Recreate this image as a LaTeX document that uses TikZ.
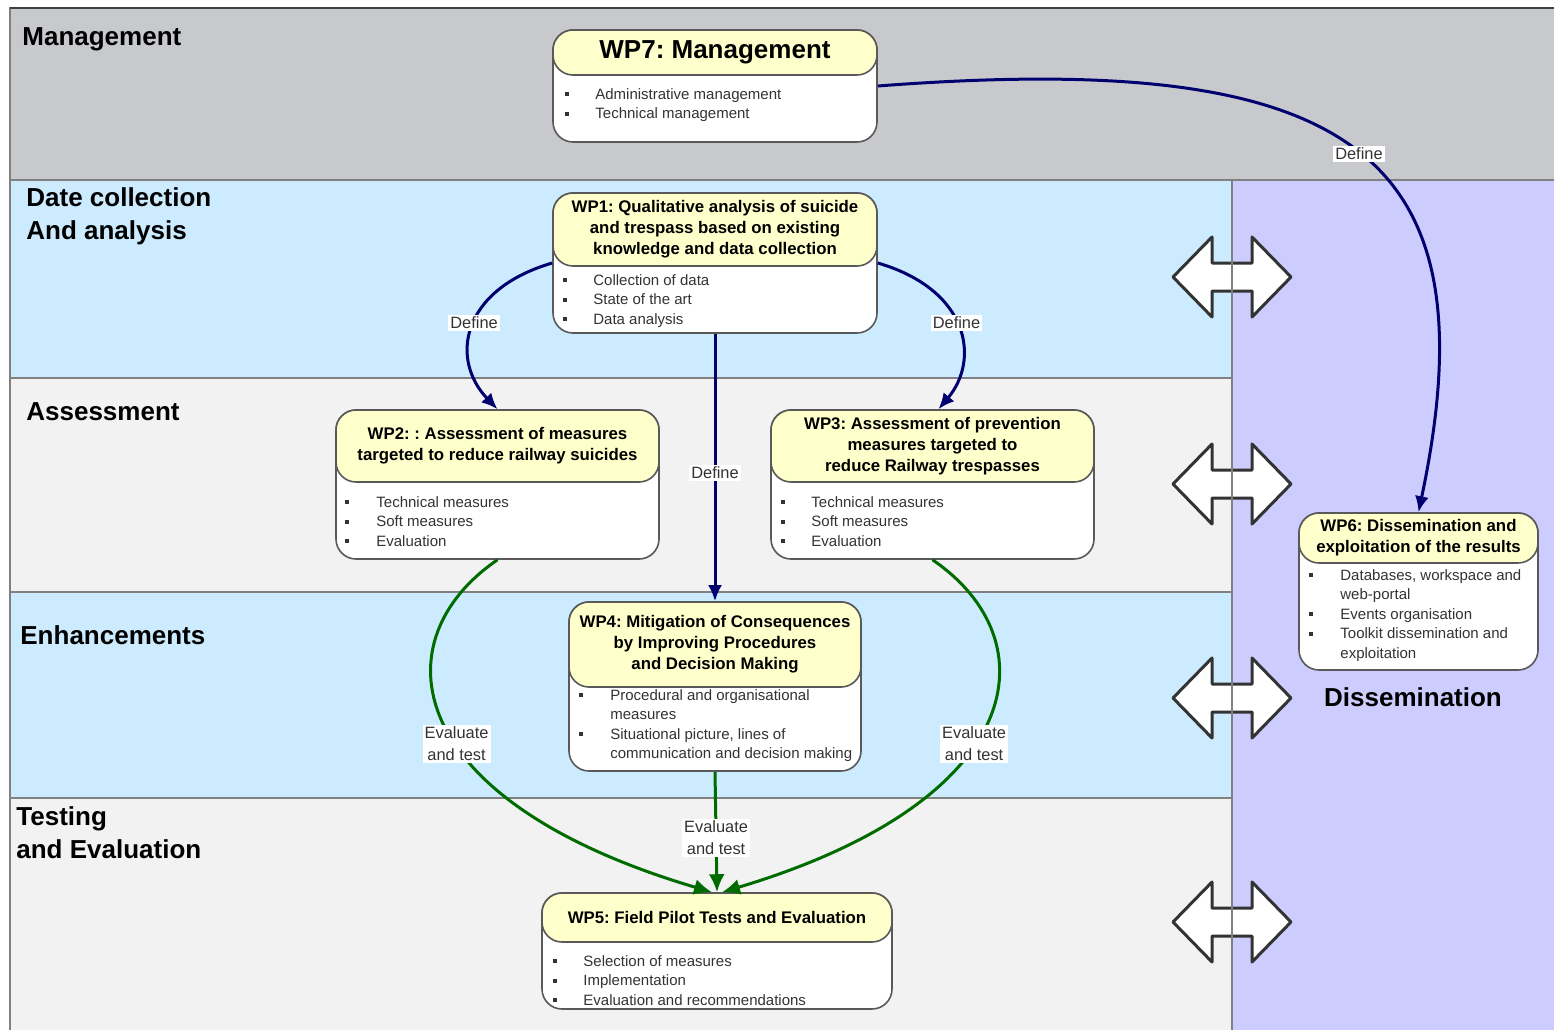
\documentclass[tikz,border=0pt]{standalone}
\usepackage{fontspec}
\setmainfont{Liberation Sans}
\usepackage{tikz}
\usetikzlibrary{arrows.meta}
\frenchspacing
\definecolor{mgmtgray}{HTML}{C8C9CD}
\definecolor{bandblue}{HTML}{CCEBFE}
\definecolor{bandgray}{HTML}{F2F2F2}
\definecolor{dissblue}{HTML}{CCCCFF}
\definecolor{headyellow}{HTML}{FFFFCC}
\definecolor{defblue}{HTML}{00006E}
\definecolor{testgreen}{HTML}{006C00}
\definecolor{edgegray}{HTML}{808080}
\newcommand{\wpbullet}{\rule[1.5pt]{1.8pt}{1.8pt}}
\tikzstyle{band} = [draw=edgegray, line width=1pt]
\tikzstyle{bandlabel} = [inner sep=0pt, align=left, font=\fontsize{13}{16.5}\selectfont\bfseries]
\tikzstyle{wpbody} = [draw=black!65, line width=0.8pt, fill=white, rounded corners=10pt, inner sep=0pt]
\tikzstyle{wphead} = [draw=black!65, line width=0.8pt, fill=headyellow, rounded corners=10pt, inner sep=0pt, anchor=north, align=center, font=\fontsize{8.4}{10.5}\selectfont\bfseries]
\tikzstyle{wpitems} = [inner sep=0pt, anchor=base west, text=black!80, font=\fontsize{7.5}{9.75}\selectfont]
\tikzstyle{defline} = [draw=defblue, line width=1.5pt, -{Latex[length=8pt,width=7pt]}]
\tikzstyle{testline} = [draw=testgreen, line width=1.5pt, -{Latex[length=9pt,width=8pt]}]
\tikzstyle{lbl} = [fill=white, inner sep=1pt, align=center, text=black!80, font=\fontsize{8.2}{11}\selectfont]
\tikzstyle{bigarrow} = [draw=black!80, line width=1.5pt, fill=white, line join=round]

\begin{document}
\begin{tikzpicture}[x=0.5pt, y=-0.5pt]
\path[use as bounding box, fill=white] (0,0) rectangle (1554,1029);
\path[band, fill=mgmtgray] (10,8) rectangle (1560,180);
\path[band, fill=bandblue] (10,180) rectangle (1232,378);
\path[band, fill=bandgray] (10,378) rectangle (1232,592);
\path[band, fill=bandblue] (10,592) rectangle (1232,798);
\path[band, fill=bandgray] (10,798) rectangle (1232,1035);
\path[band, fill=dissblue] (1232,180) rectangle (1560,1035);
\draw[black!75, line width=1pt] (10,8) -- (1560,8);

\foreach \y in {277,484,698,922}
  \draw[bigarrow] (1232,\y) +(-59,0) -- +(-20,-40) -- +(-20,-14) -- +(20,-14) -- +(20,-40) -- +(59,0)
    -- +(20,40) -- +(20,14) -- +(-20,14) -- +(-20,40) -- cycle;
\draw[edgegray, line width=1pt] (1232,180) -- (1232,1035);

\node[bandlabel, anchor=base west] (lmgmt) at (22,45) {Management};
\node[bandlabel, anchor=north west] (ldata) at (26,187) {Date collection\\And analysis};
\node[bandlabel, anchor=base west] (lassess) at (26,420) {Assessment};
\node[bandlabel, anchor=base west] (lenh) at (20,644) {Enhancements};
\node[bandlabel, anchor=north west] (ltest) at (16,806) {Testing\\and Evaluation};
\node[bandlabel] (ldiss) at (1413,697) {Dissemination};

\node[wpbody, minimum width=162pt, minimum height=56pt] at (715,86) (wp7) {};
\node[wphead, minimum width=162pt, minimum height=22.5pt, font=\fontsize{13}{15}\selectfont\bfseries] at (wp7.north) (wp7h) {WP7: Management};
\node[wpitems] at (565,99) (wp7i) {\begin{tabular}[t]{@{}p{15pt}@{}l@{}}\wpbullet & Administrative management\\ \wpbullet & Technical management\end{tabular}};

\node[wpbody, minimum width=162pt, minimum height=70pt] at (715,263) (wp1) {};
\node[wphead, minimum width=162pt, minimum height=36.5pt] at (wp1.north) (wp1h) {WP1: Qualitative analysis of suicide\\and trespass based on existing\\knowledge and data collection};
\node[wpitems] at (563,285) (wp1i) {\begin{tabular}[t]{@{}p{15pt}@{}l@{}}\wpbullet & Collection of data\\ \wpbullet & State of the art\\ \wpbullet & Data analysis\end{tabular}};

\node[wpbody, minimum width=161.5pt, minimum height=74.5pt] at (497.5,484.5) (wp2) {};
\node[wphead, minimum width=161.5pt, minimum height=36pt] at (wp2.north) (wp2h) {WP2: : Assessment of measures\\targeted to reduce railway suicides};
\node[wpitems] at (345,507) (wp2i) {\begin{tabular}[t]{@{}p{15.5pt}@{}l@{}}\wpbullet & Technical measures\\ \wpbullet & Soft measures\\ \wpbullet & Evaluation\end{tabular}};

\node[wpbody, minimum width=161.5pt, minimum height=74.5pt] at (932.5,484.5) (wp3) {};
\node[wphead, minimum width=161.5pt, minimum height=36pt] at (wp3.north) (wp3h) {WP3: Assessment of prevention\\measures targeted to\\reduce Railway trespasses};
\node[wpitems] at (781,507) (wp3i) {\begin{tabular}[t]{@{}p{15pt}@{}l@{}}\wpbullet & Technical measures\\ \wpbullet & Soft measures\\ \wpbullet & Evaluation\end{tabular}};

\node[wpbody, minimum width=146pt, minimum height=84.5pt] at (715,686.5) (wp4) {};
\node[wphead, minimum width=146pt, minimum height=42.5pt] at (wp4.north) (wp4h) {WP4: Mitigation of Consequences\\by Improving Procedures\\and Decision Making};
\node[wpitems] at (579,700) (wp4i) {\begin{tabular}[t]{@{}p{15.5pt}@{}l@{}}\wpbullet & Procedural and organisational\\ & measures\\ \wpbullet & Situational picture, lines of\\ & communication and decision making\end{tabular}};

\node[wpbody, minimum width=175pt, minimum height=58pt] at (717,951) (wp5) {};
\node[wphead, minimum width=175pt, minimum height=24.5pt] at (wp5.north) (wp5h) {WP5: Field Pilot Tests and Evaluation};
\node[wpitems] at (553,966) (wp5i) {\begin{tabular}[t]{@{}p{15pt}@{}l@{}}\wpbullet & Selection of measures\\ \wpbullet & Implementation\\ \wpbullet & Evaluation and recommendations\end{tabular}};

\node[wpbody, minimum width=119.5pt, minimum height=78.5pt] at (1418.5,591.5) (wp6) {};
\node[wphead, minimum width=119.5pt, minimum height=25pt] at (wp6.north) (wp6h) {WP6: Dissemination and\\exploitation of the results};
\node[wpitems] at (1309,580) (wp6i) {\begin{tabular}[t]{@{}p{15.5pt}@{}l@{}}\wpbullet & Databases, workspace and\\ & web-portal\\ \wpbullet & Events organisation\\ \wpbullet & Toolkit dissemination and\\ & exploitation\end{tabular}};

\path[defline] (wp7.east) .. controls (1350,50) and (1495,150) .. node[lbl, pos=0.51] {Define} (wp6.north);
\path[defline] (wp1.west) .. controls (460,290) and (450,360) .. node[lbl, pos=0.47] {Define} (wp2.north);
\path[defline] (wp1.east) .. controls (970,290) and (980,360) .. node[lbl, pos=0.47] {Define} ([xshift=3pt]wp3.north);
\path[defline] (wp1.south) -- node[lbl, pos=0.52] {Define} (wp4.north);

\path[testline] (wp2.south) .. controls (380,640) and (400,800) .. node[lbl, pos=0.56] {Evaluate\\and test} ([xshift=-2.5pt]wp5.north);
\path[testline] (wp3.south) .. controls (1050,640) and (1030,800) .. node[lbl, pos=0.56] {Evaluate\\and test} ([xshift=2.5pt]wp5.north);
\path[testline] (wp4.south) -- node[lbl, pos=0.55] {Evaluate\\and test} (wp5.north);
\end{tikzpicture}
\end{document}
